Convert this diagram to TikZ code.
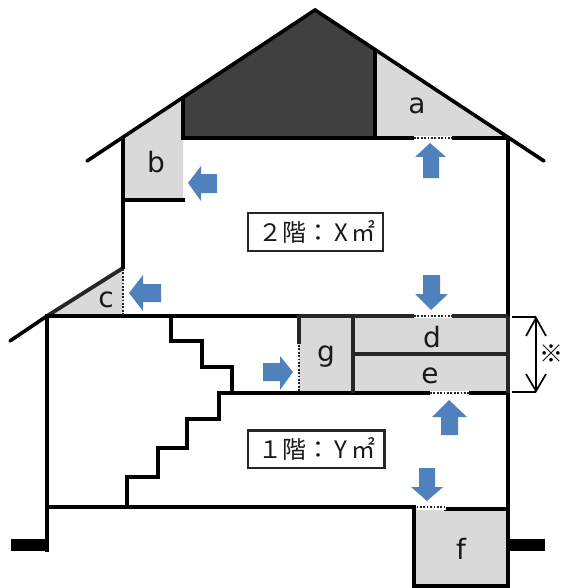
\documentclass[tikz,border=0pt]{standalone}
\usepackage{fontspec}
\setmainfont{DejaVu Sans}
\newfontfamily\cjk{Noto Sans CJK JP}
\usetikzlibrary{arrows.meta}
\definecolor{fillgray}{HTML}{D9D9D9}
\definecolor{attic}{HTML}{404040}
\definecolor{floordark}{HTML}{262626}
\definecolor{arrowblue}{HTML}{4F81BD}
\tikzset{
  x=1pt,y=-1pt,
  wall/.style={draw=black,line width=3.9pt,line cap=rect,line join=miter},
  thinwall/.style={draw=black,line width=3.6pt,line cap=butt,line join=miter},
  darkwall/.style={draw=floordark,line width=3.8pt,line cap=butt},
  gap/.style={draw=white,line width=4pt,line cap=butt},
  dots/.style={draw=floordark,line width=1.7pt,dash pattern=on 1.7pt off 1.7pt},
  room/.style={fill=fillgray,draw=none},
  blue/.style={fill=arrowblue,draw=none},
  lbl/.style={font=\fontsize{28}{28}\selectfont,inner sep=0pt,text=black!90},
  areabox/.style={draw=floordark,line width=2.2pt,fill=white,inner sep=0pt},
  areatext/.style={font=\fontsize{24}{24}\selectfont,inner sep=0pt,text=black!90},
  dim/.style={draw=black,line width=1.7pt}
}
\begin{document}
\begin{tikzpicture}
\useasboundingbox (0,0) rectangle (564,588);
% filled spaces
\fill[attic] (183,97) -- (315,10) -- (375,50) -- (375,138) -- (183,138) -- cycle;
\path[room] (375,50) -- (508,138) -- (375,138) -- cycle;
\path[room] (123,137) -- (183,97) -- (183,200) -- (123,200) -- cycle;
\path[room] (47,316) -- (123,268) -- (123,316) -- cycle;
\path[room] (299,316) rectangle (508,393);
\path[room] (414,507) rectangle (508,586);
% roof
\draw[thinwall,line cap=round] (87,161) -- (315,10) -- (544,161);
\draw[thinwall,line cap=round] (10,341) -- (47,316);
\draw[darkwall] (47,316) -- (123,268);
% upper walls
\draw[wall] (123,138) -- (123,267);
\draw[wall] (183,98) -- (183,138) -- (507,138);
\draw[wall] (375,51) -- (375,138);
\draw[wall] (123,200) -- (183,200);
\draw[wall] (508,138) -- (508,316);
% lower storey
\draw[wall] (47,316) -- (299,316);
\draw[darkwall] (299,316) -- (508,316);
\draw[wall] (47,316) -- (47,550);
\draw[wall] (47,507) -- (414,507);
\draw[wall] (219,393) -- (508,393);
\draw[wall] (508,393) -- (508,586) -- (414,586) -- (414,507);
\draw[wall] (446,509) -- (508,509);
% stairs
\draw[wall] (171,316) -- (171,341) -- (202,341) -- (202,367) -- (232,367) -- (232,393);
\draw[wall] (127,507) -- (127,477) -- (158,477) -- (158,448) -- (187,448) -- (187,419) -- (219,419) -- (219,393);
% storage partitions
\draw[darkwall] (299,315) -- (299,344);
\draw[darkwall] (353,316) -- (353,393);
\draw[darkwall] (353,354) -- (508,354);
\draw[darkwall] (508,316) -- (508,393);
% dotted openings
\draw[gap] (414,138) -- (452,138);
\draw[dots] (414,138) -- (452,138);
\draw[gap] (414,316) -- (452,316);
\draw[dots] (414,316) -- (452,316);
\draw[gap] (430,393) -- (469,393);
\draw[dots] (430,393) -- (469,393);
\draw[gap] (416.5,507.5) -- (446,507.5);
\draw[dots] (416.5,507) -- (446,507);
\draw[dots] (123,269) -- (123,316);
\draw[dots] (299,345) -- (299,392);
% foundations
\fill[black] (11,539) rectangle (47,551);
\fill[black] (509,539) rectangle (545,551);
% blue arrows
\path[blue] (188,183) -- (201,166) -- (201,174) -- (217,174) -- (217,193) -- (201,193) -- (201,201) -- cycle;
\path[blue] (129,293) -- (143,275) -- (143,284) -- (161,284) -- (161,302) -- (143,302) -- (143,311) -- cycle;
\path[blue] (430,143) -- (446,157) -- (439,157) -- (439,178) -- (423,178) -- (423,157) -- (415,157) -- cycle;
\path[blue] (431,310) -- (448,294) -- (440,294) -- (440,275) -- (423,275) -- (423,294) -- (415,294) -- cycle;
\path[blue] (449,400) -- (467,417) -- (458,417) -- (458,435) -- (441,435) -- (441,417) -- (432,417) -- cycle;
\path[blue] (427,501) -- (443,487) -- (435,487) -- (435,468) -- (419,468) -- (419,487) -- (411,487) -- cycle;
\path[blue] (293,372) -- (280,356) -- (280,363) -- (263,363) -- (263,381) -- (280,381) -- (280,390) -- cycle;
% dimension
\draw[dim] (512,317) -- (536,317);
\draw[dim] (512,392) -- (536,392);
\draw[dim] (536,318) -- (536,391);
\draw[dim] (526,336) -- (536,318) -- (546,336);
\draw[dim] (526,374) -- (536,391) -- (546,374);
% labels
\node[lbl] (la) at (417,106) {a};
\node[lbl] (lb) at (156,162) {b};
\node[lbl] (lc) at (106,300) {c};
\node[lbl] (ld) at (432,337) {d};
\node[lbl] (le) at (430,376) {e};
\node[lbl] (lf) at (461,549) {f};
\node[lbl] (lg) at (326,357) {g};
\node[font=\cjk\fontsize{24}{24}\selectfont,inner sep=0pt] (ref) at (551.8,354) {※};
% area boxes
\draw[areabox] (248,213) rectangle (383,251);
\draw[areabox] (248,430.5) rectangle (384.5,468);
\node[areatext] (two) at (317,232) {\cjk ２階：\,X\,㎡};
\node[areatext] (one) at (317,449) {\cjk １階：\,Y\,㎡};
\end{tikzpicture}
\end{document}
